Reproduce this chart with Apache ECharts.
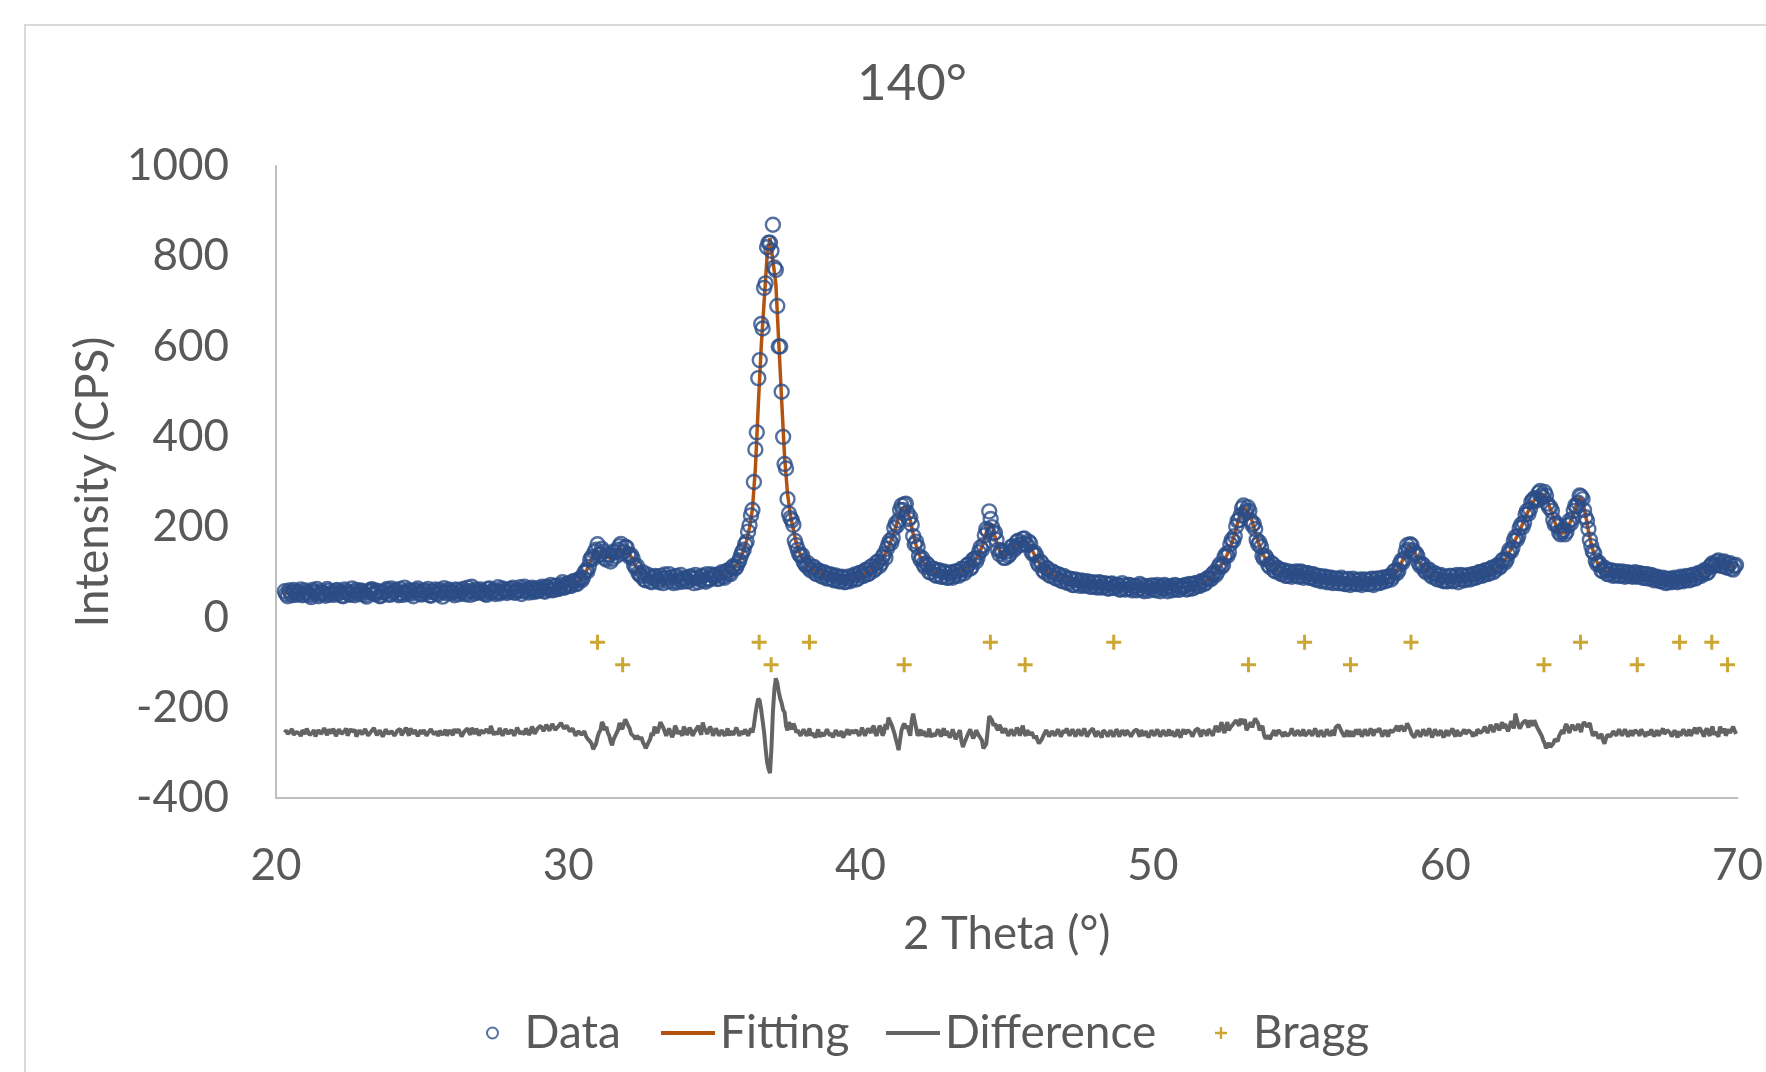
<!DOCTYPE html>
<html>
<head>
<meta charset="utf-8">
<title>140°</title>
<script src="https://cdn.jsdelivr.net/npm/echarts@6.0.0/dist/echarts.min.js"></script>
<style>
  html, body { margin: 0; padding: 0; background: #ffffff; }
  #chart { width: 1766px; height: 1072px; }
</style>
</head>
<body>
<div id="chart"></div>
<script>
// 2θ grid of the scan: first point and step (°); the "Half" arrays sit half a step later
const twoThetaStart = 20.3;
const twoThetaStep = 0.1;

// observed intensity (CPS), one row per degree (row 20 starts at 20.3)
const observed = [
  58, 47, 55, 61, 50, 56, 49,
  60, 52, 45, 57, 63, 51, 55, 48, 59, 53,
  50, 61, 56, 47, 58, 52, 64, 49, 55, 60,
  53, 46, 59, 62, 51, 57, 48, 56, 63, 50,
  55, 61, 49, 54, 66, 52, 58, 47, 60, 55,
  51, 59, 63, 48, 56, 53, 61, 46, 57, 62,
  54, 49, 60, 56, 63, 51, 58, 68, 53, 57,
  62, 55, 50, 64, 58, 52, 67, 56, 61, 54,
  57, 66, 55, 61, 52, 68, 59, 63, 56, 65,
  60, 68, 57, 66, 72, 61, 70, 64, 78, 67,
  75, 70, 81, 74, 86, 88, 104, 112, 134, 145,
  162, 140, 146, 128, 138, 130, 144, 150, 163, 146,
  155, 134, 131, 110, 98, 92, 84, 95, 80, 88,
  90, 78, 86, 95, 80, 88, 76, 92, 84, 79,
  87, 80, 91, 76, 88, 84, 93, 79, 86, 95,
  90, 85, 96, 91, 102, 98, 110, 108, 120, 136,
  150, 168, 204, 238, 372, 530, 650, 730, 820, 830,
  870, 770, 600, 500, 340, 262, 220, 205, 160, 140,
  138, 118, 120, 104, 112, 96, 103, 90, 98, 87,
  94, 82, 90, 80, 88, 79, 91, 84, 95, 86,
  99, 92, 106, 98, 114, 108, 124, 120, 140, 152,
  170, 176, 208, 215, 248, 250, 232, 222, 180, 168,
  136, 132, 112, 116, 100, 108, 92, 104, 90, 99,
  88, 100, 92, 102, 96, 108, 104, 118, 112, 130,
  132, 155, 160, 196, 235, 200, 188, 150, 148, 132,
  146, 140, 158, 155, 170, 162, 175, 160, 164, 140,
  138, 116, 120, 100, 108, 92, 100, 86, 94, 80,
  88, 76, 85, 72, 82, 70, 80, 73, 78, 68,
  76, 66, 77, 68, 74, 64, 75, 66, 72, 62,
  71, 63, 72, 60, 70, 64, 71, 58, 68, 65,
  70, 60, 68, 64, 72, 58, 69, 63, 70, 61,
  66, 72, 63, 73, 66, 76, 70, 80, 76, 88,
  86, 100, 100, 118, 116, 140, 144, 172, 180, 214,
  226, 248, 236, 236, 205, 196, 162, 156, 130, 130,
  112, 118, 102, 108, 96, 104, 92, 100, 94, 102,
  90, 100, 92, 98, 88, 95, 84, 92, 82, 90,
  80, 88, 78, 86, 76, 84, 74, 85, 76, 82,
  74, 84, 76, 82, 74, 86, 76, 86, 78, 88,
  82, 92, 90, 104, 104, 126, 130, 160, 162, 148,
  142, 120, 118, 104, 106, 94, 98, 86, 92, 82,
  90, 80, 92, 82, 94, 84, 92, 84, 94, 86,
  96, 90, 100, 94, 104, 98, 110, 104, 116, 114,
  128, 128, 150, 154, 178, 180, 206, 210, 236, 240,
  260, 258, 276, 270, 278, 252, 244, 216, 208, 188,
  190, 184, 204, 208, 236, 246, 270, 262, 222, 196,
  158, 142, 118, 116, 102, 106, 96, 104, 94, 102,
  93, 100, 92, 98, 90, 100, 92, 97, 88, 96,
  87, 92, 84, 88, 80, 86, 78, 85, 80, 86,
  80, 88, 83, 90, 84, 94, 88, 98, 96, 104,
  100, 116, 114, 124, 116, 122, 112, 118, 108, 114
];

// observed intensity at the in-between points (20.35, 20.45, ...)
const observedHalf = [
  52, 60, 49, 57, 53, 62, 51,
  56, 49, 61, 54, 47, 58, 52, 63, 50, 56,
  59, 53, 48, 62, 55, 50, 57, 61, 52, 58,
  49, 57, 62, 53, 59, 47, 55, 60, 51, 64,
  58, 52, 63, 50, 57, 61, 53, 59, 64, 51,
  60, 54, 49, 58, 62, 51, 57, 65, 53, 59,
  55, 62, 51, 59, 54, 66, 50, 58, 62, 55,
  58, 52, 63, 55, 61, 57, 53, 64, 58, 62,
  63, 55, 60, 67, 58, 62, 55, 66, 60, 58,
  64, 59, 68, 62, 60, 70, 63, 72, 66, 74,
  70, 79, 74, 84, 82, 99, 102, 128, 130, 150,
  138, 152, 132, 140, 124, 146, 136, 158, 142, 156,
  140, 138, 116, 114, 94, 100, 82, 91, 78, 92,
  82, 92, 76, 88, 96, 80, 90, 78, 94, 86,
  80, 90, 86, 94, 78, 90, 82, 96, 84, 92,
  94, 86, 100, 88, 104, 96, 114, 112, 126, 145,
  162, 190, 226, 300, 410, 570, 640, 740, 830, 812,
  775, 690, 600, 400, 330, 230, 215, 170, 150, 136,
  124, 114, 108, 112, 98, 104, 92, 100, 86, 96,
  84, 93, 80, 90, 78, 88, 80, 92, 84, 98,
  92, 104, 96, 112, 104, 122, 114, 134, 132, 162,
  165, 198, 204, 238, 238, 252, 218, 206, 162, 156,
  128, 118, 120, 100, 108, 94, 104, 90, 102, 88,
  98, 88, 102, 92, 108, 98, 116, 108, 128, 124,
  144, 150, 182, 192, 218, 186, 172, 140, 146, 132,
  136, 156, 150, 168, 160, 174, 162, 168, 145, 144,
  122, 124, 104, 110, 94, 102, 88, 96, 82, 92,
  78, 86, 72, 84, 74, 82, 70, 80, 68, 78,
  68, 78, 66, 76, 64, 74, 66, 72, 62, 76,
  62, 72, 64, 70, 60, 74, 62, 70, 59, 71,
  62, 72, 58, 70, 64, 68, 60, 72, 62, 69,
  70, 62, 74, 64, 76, 70, 80, 74, 86, 84,
  96, 94, 112, 112, 134, 136, 162, 170, 202, 216,
  242, 232, 244, 214, 208, 172, 166, 136, 136, 116,
  120, 104, 110, 98, 104, 92, 102, 90, 100, 92,
  102, 88, 98, 88, 96, 84, 92, 80, 90, 78,
  88, 76, 86, 76, 88, 74, 84, 72, 86, 74,
  82, 72, 84, 74, 84, 72, 86, 76, 88, 80,
  90, 84, 102, 98, 118, 122, 146, 150, 160, 142,
  136, 114, 116, 100, 106, 90, 98, 84, 94, 80,
  80, 92, 80, 90, 78, 94, 82, 92, 84, 96,
  88, 100, 92, 104, 96, 108, 100, 114, 110, 126,
  122, 140, 146, 170, 172, 198, 200, 228, 230, 256,
  264, 262, 280, 266, 270, 244, 236, 206, 202, 184,
  194, 190, 214, 218, 248, 254, 268, 238, 214, 172,
  146, 126, 122, 104, 110, 96, 104, 92, 102, 92,
  102, 90, 100, 92, 98, 90, 98, 88, 96, 86,
  94, 82, 90, 80, 88, 76, 86, 78, 88, 78,
  90, 80, 92, 82, 94, 86, 98, 92, 104, 98,
  112, 120, 116, 126, 114, 124, 110, 120, 106, 116
];

// calculated profile (CPS)
const fitted = [
  54, 54, 54, 54, 54, 54, 54,
  54, 54, 54, 54, 54, 54, 54, 54, 54, 54,
  54, 54, 54, 54, 55, 55, 55, 55, 55, 55,
  55, 55, 55, 55, 55, 55, 55, 55, 55, 55,
  55, 55, 55, 56, 56, 56, 56, 56, 56, 56,
  56, 56, 56, 56, 56, 56, 56, 56, 56, 56,
  56, 56, 57, 57, 57, 57, 57, 57, 57, 57,
  57, 58, 58, 58, 58, 58, 58, 59, 59, 59,
  59, 59, 60, 60, 60, 60, 61, 61, 61, 62,
  62, 62, 63, 63, 64, 65, 66, 67, 68, 70,
  72, 74, 76, 79, 83, 90, 100, 115, 130, 140,
  145, 143, 138, 133, 132, 135, 140, 146, 150, 151,
  148, 140, 128, 115, 104, 96, 91, 88, 86, 85,
  84, 84, 84, 84, 84, 84, 84, 84, 84, 84,
  84, 84, 84, 85, 85, 85, 86, 86, 87, 87,
  88, 90, 92, 94, 97, 101, 106, 113, 122, 133,
  148, 170, 199, 240, 330, 470, 600, 700, 800, 840,
  790, 740, 610, 480, 355, 275, 225, 195, 165, 145,
  132, 122, 115, 110, 106, 102, 99, 96, 93, 91,
  89, 88, 86, 85, 84, 84, 85, 86, 88, 90,
  95, 97, 100, 104, 108, 113, 118, 126, 135, 148,
  163, 180, 200, 222, 240, 245, 238, 215, 185, 160,
  140, 127, 118, 110, 105, 101, 99, 98, 96, 95,
  94, 94, 95, 96, 100, 104, 108, 113, 118, 126,
  135, 148, 165, 188, 208, 205, 178, 155, 142, 138,
  140, 146, 153, 160, 165, 168, 169, 166, 158, 145,
  132, 122, 114, 107, 102, 98, 94, 91, 88, 86,
  83, 81, 80, 78, 78, 77, 76, 75, 74, 74,
  73, 72, 72, 71, 71, 70, 70, 69, 69, 69,
  68, 68, 68, 67, 67, 67, 67, 66, 66, 66,
  66, 66, 66, 66, 66, 66, 66, 66, 66, 66,
  67, 67, 68, 68, 69, 72, 74, 77, 80, 85,
  90, 96, 104, 112, 122, 134, 148, 165, 185, 210,
  232, 242, 240, 230, 212, 190, 168, 150, 136, 125,
  118, 112, 108, 104, 101, 99, 97, 96, 96, 96,
  96, 96, 95, 94, 92, 90, 88, 87, 86, 85,
  84, 83, 82, 82, 81, 81, 80, 80, 80, 79,
  79, 79, 79, 79, 79, 79, 80, 81, 82, 83,
  85, 88, 93, 100, 108, 120, 135, 150, 158, 152,
  138, 124, 114, 108, 102, 98, 94, 91, 89, 87,
  86, 86, 86, 86, 86, 86, 87, 88, 89, 90,
  92, 94, 96, 98, 100, 102, 105, 108, 112, 118,
  124, 132, 145, 158, 172, 185, 200, 215, 230, 243,
  255, 264, 270, 274, 270, 258, 240, 220, 203, 192,
  186, 190, 200, 214, 232, 252, 266, 258, 228, 192,
  162, 138, 122, 112, 106, 102, 100, 99, 98, 98,
  97, 97, 96, 96, 96, 95, 95, 94, 93, 92,
  90, 88, 86, 85, 84, 83, 82, 82, 82, 83,
  84, 85, 86, 87, 88, 90, 92, 95, 98, 101,
  105, 112, 118, 120, 120, 118, 116, 114, 113, 112
];

// difference curve, plotted with its offset (CPS)
const difference = [
  -255, -258, -252, -260, -254, -257, -250,
  -258, -253, -262, -249, -256, -251, -259, -254, -248, -257,
  -252, -260, -250, -256, -246, -258, -253, -249, -261, -251,
  -256, -248, -259, -252, -244, -257, -251, -258, -250, -254,
  -249, -257, -253, -261, -250, -255, -246, -258, -252, -256,
  -258, -250, -256, -248, -259, -253, -251, -260, -249, -255,
  -252, -247, -257, -251, -262, -250, -254, -245, -258, -252,
  -250, -256, -248, -257, -243, -254, -258, -249, -255, -251,
  -256, -250, -258, -246, -253, -259, -251, -255, -247, -252,
  -250, -245, -254, -243, -248, -240, -252, -246, -238, -250,
  -244, -255, -250, -260, -248, -256, -262, -270, -280, -290,
  -265, -250, -237, -242, -262, -283, -266, -250, -240, -235,
  -228, -246, -260, -270, -258, -265, -282, -287, -270, -262,
  -250, -245, -236, -248, -255, -250, -258, -246, -252, -262,
  -248, -255, -250, -258, -245, -252, -233, -250, -256, -248,
  -258, -252, -260, -248, -255, -262, -250, -256, -247, -253,
  -258, -250, -262, -255, -215, -180, -205, -255, -320, -345,
  -210, -135, -165, -190, -210, -250, -240, -235, -255, -248,
  -260, -250, -256, -262, -252, -258, -265, -255, -260, -252,
  -256, -262, -250, -258, -266, -255, -260, -250, -258, -253,
  -255, -248, -258, -250, -245, -256, -250, -246, -255, -248,
  -220, -245, -268, -294, -250, -235, -240, -262, -213, -245,
  -257, -262, -250, -258, -265, -254, -260, -256, -252, -262,
  -255, -260, -258, -266, -250, -287, -270, -255, -258, -262,
  -250, -258, -290, -280, -219, -228, -235, -250, -244, -258,
  -250, -256, -245, -258, -252, -248, -256, -250, -260, -258,
  -262, -279, -270, -258, -255, -262, -250, -258, -254, -260,
  -256, -250, -260, -254, -262, -252, -258, -250, -262, -255,
  -258, -252, -260, -250, -256, -262, -251, -257, -253, -260,
  -255, -250, -258, -262, -252, -257, -250, -262, -254, -258,
  -252, -258, -250, -262, -254, -257, -262, -250, -256, -260,
  -254, -258, -250, -256, -262, -252, -258, -250, -255, -248,
  -256, -250, -244, -242, -248, -240, -250, -246, -238, -232,
  -224, -240, -250, -238, -244, -224, -235, -248, -260, -272,
  -270, -258, -262, -250, -258, -254, -262, -256, -250, -257,
  -252, -258, -262, -256, -250, -258, -254, -262, -252, -258,
  -250, -256, -262, -248, -240, -255, -258, -264, -252, -256,
  -260, -254, -258, -250, -262, -255, -248, -258, -254, -256,
  -258, -250, -254, -246, -252, -240, -252, -235, -248, -256,
  -262, -252, -258, -250, -262, -254, -258, -250, -255, -260,
  -256, -262, -252, -258, -250, -262, -254, -258, -250, -256,
  -254, -248, -256, -250, -246, -252, -244, -250, -242, -240,
  -246, -240, -244, -236, -213, -238, -242, -232, -236, -228,
  -240, -236, -250, -262, -278, -284, -287, -279, -268, -262,
  -250, -242, -248, -244, -240, -250, -245, -238, -231, -240,
  -250, -262, -258, -265, -272, -268, -256, -262, -250, -258,
  -252, -260, -254, -258, -262, -250, -256, -248, -258, -254,
  -260, -250, -256, -262, -252, -258, -250, -256, -262, -254,
  -252, -258, -246, -256, -262, -250, -258, -244, -256, -252,
  -256, -248, -260, -250, -242, -256, -262, -248, -252, -246
];

// difference curve at the in-between points
const differenceHalf = [
  -250, -262, -247, -259, -253, -263, -249,
  -246, -260, -255, -264, -250, -258, -245, -261, -252, -247,
  -263, -248, -258, -251, -262, -247, -256, -264, -250, -259,
  -247, -262, -253, -245, -261, -250, -264, -248, -258, -252,
  -262, -251, -247, -259, -244, -262, -252, -249, -263, -250,
  -249, -262, -253, -244, -258, -263, -247, -256, -262, -250,
  -261, -255, -248, -264, -252, -246, -260, -251, -247, -262,
  -246, -259, -252, -240, -260, -250, -245, -262, -247, -258,
  -249, -262, -244, -258, -250, -246, -260, -242, -258, -246,
  -240, -252, -238, -251, -236, -249, -242, -234, -246, -240,
  -252, -246, -262, -252, -260, -252, -268, -275, -292, -280,
  -255, -232, -250, -255, -275, -270, -256, -234, -248, -226,
  -240, -258, -264, -262, -270, -276, -290, -276, -256, -242,
  -256, -232, -244, -262, -246, -265, -240, -258, -250, -242,
  -260, -244, -262, -250, -240, -260, -244, -258, -242, -262,
  -246, -262, -250, -262, -246, -252, -260, -244, -262, -250,
  -248, -262, -246, -240, -195, -185, -230, -290, -335, -290,
  -160, -145, -180, -205, -240, -232, -248, -242, -250, -262,
  -248, -262, -246, -256, -266, -248, -256, -262, -248, -262,
  -266, -250, -262, -252, -260, -248, -264, -256, -250, -262,
  -244, -262, -246, -256, -240, -262, -240, -262, -236, -222,
  -236, -255, -280, -272, -240, -246, -252, -228, -230, -262,
  -248, -252, -264, -246, -258, -262, -248, -264, -246, -252,
  -266, -248, -270, -256, -274, -278, -262, -248, -268, -250,
  -262, -272, -292, -250, -222, -240, -245, -238, -256, -246,
  -262, -248, -262, -244, -262, -240, -262, -246, -254, -268,
  -272, -276, -262, -250, -264, -252, -262, -248, -264, -250,
  -246, -262, -248, -264, -248, -262, -246, -264, -252, -246,
  -264, -248, -266, -246, -264, -250, -264, -248, -264, -250,
  -262, -246, -264, -252, -248, -264, -246, -252, -266, -250,
  -262, -248, -264, -250, -262, -248, -252, -264, -248, -266,
  -248, -262, -246, -264, -250, -246, -264, -246, -262, -244,
  -262, -240, -254, -232, -256, -232, -244, -236, -228, -240,
  -236, -226, -244, -232, -232, -222, -250, -240, -268, -262,
  -262, -250, -266, -246, -264, -250, -266, -246, -262, -250,
  -262, -248, -266, -250, -262, -246, -264, -250, -264, -248,
  -262, -250, -244, -238, -252, -264, -250, -258, -264, -248,
  -248, -264, -248, -262, -246, -262, -254, -246, -264, -250,
  -264, -246, -258, -240, -246, -238, -244, -232, -258, -266,
  -250, -264, -248, -262, -246, -266, -248, -262, -250, -266,
  -250, -264, -246, -264, -248, -266, -248, -262, -246, -264,
  -262, -244, -258, -242, -256, -238, -254, -236, -250, -232,
  -236, -252, -230, -246, -225, -246, -234, -228, -244, -232,
  -228, -244, -256, -272, -290, -278, -290, -270, -274, -256,
  -258, -236, -256, -238, -250, -236, -254, -232, -242, -234,
  -262, -254, -268, -258, -280, -260, -264, -252, -262, -248,
  -262, -248, -264, -250, -266, -248, -262, -246, -264, -250,
  -248, -264, -250, -266, -246, -262, -248, -264, -250, -266,
  -262, -248, -262, -248, -266, -244, -262, -250, -264, -246,
  -262, -242, -254, -264, -248, -246, -264, -256, -242, -258
];

// Bragg reflection positions (2θ) for the two phases and the level each row is drawn at
const braggPhase1 = [31.0, 36.53, 38.25, 44.44, 48.66, 55.19, 58.83, 64.63, 68.02, 69.12];
const braggPhase2 = [31.86, 36.94, 41.49, 45.63, 53.27, 56.76, 63.38, 66.57, 69.66];
const braggLevel1 = -55;
const braggLevel2 = -105;

// axes
const xTicks = [20, 30, 40, 50, 60, 70];
const yTicks = [-400, -200, 0, 200, 400, 600, 800, 1000];

const twoTheta = i => +(twoThetaStart + i * twoThetaStep).toFixed(2);
const twoThetaHalf = i => +(twoThetaStart + (i + 0.5) * twoThetaStep).toFixed(2);

// interleave the main and in-between points so lines stay ordered by 2θ
function interleave(main, half) {
  let pts = [];
  main.forEach((v, i) => {
    pts.push([twoTheta(i), v]);
    if (i < half.length) pts.push([twoThetaHalf(i), half[i]]);
  });
  return pts;
}

const dataPts = interleave(observed, observedHalf);
const fitPts = fitted.map((v, i) => [twoTheta(i), v]);
const diffPts = interleave(difference, differenceHalf);
const braggPts = braggPhase1.map(x => [x, braggLevel1])
  .concat(braggPhase2.map(x => [x, braggLevel2]));

const txt = '#595959';
const font = 'Lato';
const blue = '#2b4c87';
const orange = '#b4520f';
const grey = '#646464';
const gold = '#bf9000';
const plusPath = 'path://M4,0H6V4H10V6H6V10H4V6H0V4H4Z';

let chart = echarts.init(document.getElementById('chart'));

const legendBase = {
  orient: 'horizontal',
  top: 1010,
  padding: 0,
  itemGap: 0,
  selectedMode: false,
  textStyle: { color: txt, fontFamily: font, fontSize: 46 }
};

chart.setOption({
  animation: false,
  backgroundColor: '#ffffff',
  graphic: [
    {
      type: 'rect', z: -10, silent: true,
      shape: { x: 25, y: 25, width: 1800, height: 1100 },
      style: { fill: 'none', stroke: '#d9d9d9', lineWidth: 2 }
    },
    {
      type: 'text', z: 10,
      x: 912, y: 84,
      style: {
        text: '140°', fill: txt, fontFamily: font, fontSize: 51,
        align: 'center', verticalAlign: 'middle'
      }
    }
  ],
  grid: { left: 276, right: 23, top: 166, bottom: 274 },
  xAxis: {
    type: 'value',
    min: xTicks[0], max: xTicks[xTicks.length - 1], interval: 10,
    name: '2 Theta (°)',
    nameLocation: 'middle',
    nameGap: 113,
    nameTextStyle: { color: txt, fontFamily: font, fontSize: 45.5 },
    axisLine: { onZero: false, lineStyle: { color: '#bfbfbf', width: 2 } },
    axisTick: { show: false },
    splitLine: { show: false },
    axisLabel: { color: txt, fontFamily: font, fontSize: 44, margin: 46 }
  },
  yAxis: {
    type: 'value',
    min: yTicks[0], max: yTicks[yTicks.length - 1], interval: 200,
    name: 'Intensity (CPS)',
    nameLocation: 'middle',
    nameGap: 138,
    nameTextStyle: { color: txt, fontFamily: font, fontSize: 45.5 },
    axisLine: { show: true, lineStyle: { color: '#bfbfbf', width: 2 } },
    axisTick: { show: false },
    splitLine: { show: false },
    axisLabel: {
      color: txt, fontFamily: font, fontSize: 44, margin: 47,
      formatter: v => String(v)
    }
  },
  legend: [
    Object.assign({}, legendBase, {
      left: 486, itemWidth: 54, itemHeight: 11,
      data: [{ name: 'Data', icon: 'circle',
        itemStyle: { color: 'rgba(0,0,0,0)', borderColor: blue, borderWidth: 2 } }]
    }),
    Object.assign({}, legendBase, {
      left: 661, itemWidth: 54, itemHeight: 4,
      data: [{ name: 'Fitting', icon: 'rect', itemStyle: { color: orange } }]
    }),
    Object.assign({}, legendBase, {
      left: 886, itemWidth: 54, itemHeight: 4,
      data: [{ name: 'Difference', icon: 'rect', itemStyle: { color: grey } }]
    }),
    Object.assign({}, legendBase, {
      left: 1215, itemWidth: 54, itemHeight: 12,
      data: [{ name: 'Bragg', icon: plusPath, itemStyle: { color: gold } }]
    })
  ],
  series: [
    {
      name: 'Fitting', type: 'line', z: 2,
      data: fitPts, showSymbol: false, symbol: 'none',
      lineStyle: { color: orange, width: 3.5 },
      itemStyle: { color: orange }
    },
    {
      name: 'Data', type: 'scatter', z: 3,
      data: dataPts, symbol: 'circle', symbolSize: 14,
      itemStyle: { color: 'rgba(0,0,0,0)', borderColor: blue, borderWidth: 2.4 }
    },
    {
      name: 'Difference', type: 'line', z: 2,
      data: diffPts, showSymbol: false, symbol: 'none',
      lineStyle: { color: grey, width: 4 },
      itemStyle: { color: grey }
    },
    {
      name: 'Bragg', type: 'scatter', z: 4,
      data: braggPts, symbol: plusPath, symbolSize: 15,
      itemStyle: { color: gold }
    }
  ]
});
</script>
</body>
</html>
